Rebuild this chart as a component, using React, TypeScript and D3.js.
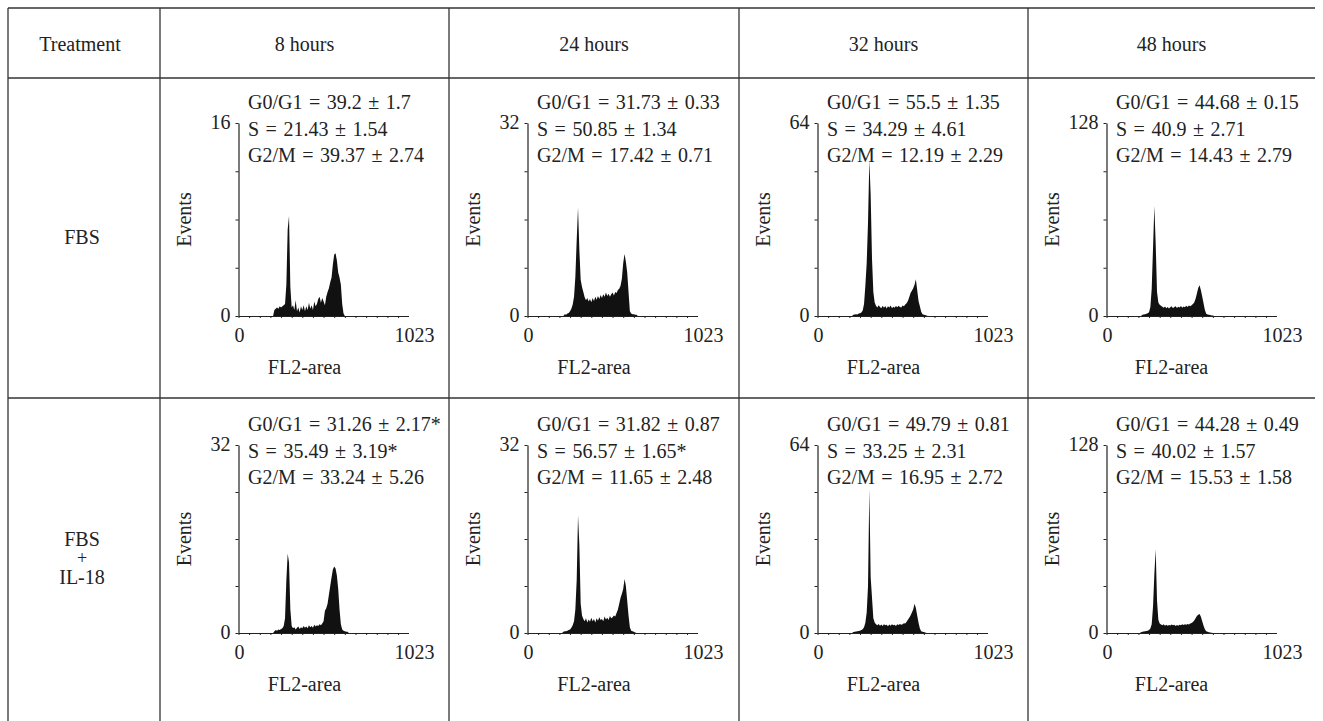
import React, { useRef, useEffect } from 'react';
import * as d3 from 'd3';

// table headings
const timepoints = ['8 hours', '24 hours', '32 hours', '48 hours'];
const treatments = [['FBS'], ['FBS', '+', 'IL-18']];
const phases = ['G0/G1', 'S', 'G2/M'];

// y-axis maxima (Events) per row / column
const yMaxFBS = [16, 32, 64, 128];
const yMaxIL18 = [32, 32, 64, 128];

// percentages shown above every histogram
const statsFBS = [
  ['39.2 ± 1.7', '21.43 ± 1.54', '39.37 ± 2.74'],
  ['31.73 ± 0.33', '50.85 ± 1.34', '17.42 ± 0.71'],
  ['55.5 ± 1.35', '34.29 ± 4.61', '12.19 ± 2.29'],
  ['44.68 ± 0.15', '40.9 ± 2.71', '14.43 ± 2.79'],
];
const statsIL18 = [
  ['31.26 ± 2.17*', '35.49 ± 3.19*', '33.24 ± 5.26'],
  ['31.82 ± 0.87', '56.57 ± 1.65*', '11.65 ± 2.48'],
  ['49.79 ± 0.81', '33.25 ± 2.31', '16.95 ± 2.72'],
  ['44.28 ± 0.49', '40.02 ± 1.57', '15.53 ± 1.58'],
];

// histogram counts, FL2-area channel 200, 208, ... 672 (8 channels per bin)
const binStart = 200;
const binWidth = 8;

const fbs8h = [
  0, 0, 0.5, 0.6, 0.7, 0.6, 0.8, 0.7, 0.8, 0.9,
  1.0, 2.6, 7.2, 8.3, 2.4, 0.7, 0.9, 0.5, 1.3, 0.4,
  0.7, 0.3, 0.8, 0.5, 0.9, 0.4, 0.8, 0.5, 1.1, 0.6,
  0.9, 0.5, 1.2, 0.8, 1.0, 1.4, 1.6, 1.1, 1.5, 1.2,
  0.9, 1.6, 2.0, 2.3, 2.8, 3.2, 4.3, 5.1, 5.2, 4.6,
  3.6, 3.2, 2.6, 1.0, 0.2, 0, 0, 0, 0, 0,
];
const fbs24h = [
  0, 0, 0, 0.3, 0.2, 0.4, 0.5, 0.8, 1.2, 1.9,
  3.2, 6.5, 12.5, 18.0, 11.0, 6.0, 4.8, 4.0, 3.1, 2.6,
  3.0, 2.4, 2.8, 2.3, 3.0, 2.5, 3.2, 2.7, 3.3, 2.8,
  3.5, 3.0, 3.6, 3.2, 3.9, 3.3, 3.7, 3.2, 3.6, 3.9,
  3.4, 4.0, 3.8, 4.3, 4.5, 5.0, 6.2, 8.8, 10.3, 9.0,
  7.2, 4.0, 0.8, 0.4, 0.3, 0.3, 0.2, 0.2, 0, 0,
];
const fbs32h = [
  0, 0, 0.4, 0.5, 0.6, 0.5, 0.8, 0.9, 1.2, 1.8,
  4.0, 10.0, 17.5, 31.0, 51.7, 40.0, 19.0, 8.0, 4.5, 3.4,
  2.8, 3.6, 3.0, 2.6, 3.4, 2.7, 3.3, 2.5, 3.2, 2.8,
  3.5, 2.6, 3.1, 2.7, 3.3, 2.9, 3.4, 3.0, 2.8, 3.5,
  3.2, 3.8, 4.2, 5.0, 6.2, 7.6, 8.4, 9.2, 10.4, 12.2,
  8.5, 5.0, 3.2, 1.4, 0.6, 0.4, 0.3, 0.2, 0, 0,
];
const fbs48h = [
  0, 0, 0.8, 1.0, 1.2, 1.5, 1.8, 2.5, 6.0, 18.0,
  45.0, 73.0, 48.0, 16.0, 9.0, 7.5, 6.8, 6.2, 5.4, 6.3,
  5.2, 6.0, 5.0, 5.8, 6.4, 5.1, 5.9, 6.5, 5.3, 6.1,
  5.6, 6.6, 5.4, 6.3, 5.8, 6.8, 6.0, 7.0, 6.4, 7.2,
  8.0, 9.0, 11.5, 15.0, 18.5, 20.4, 17.0, 13.0, 8.5, 4.0,
  1.5, 1.0, 0.8, 0.6, 0.4, 0.3, 0, 0, 0, 0,
];
const il8h = [
  0, 0, 0.3, 0.5, 0.4, 0.6, 0.5, 0.7, 0.8, 1.2,
  2.5, 9.0, 13.5, 12.0, 4.0, 1.2, 0.8, 1.0, 0.6, 0.9,
  1.1, 0.7, 1.0, 0.8, 1.2, 0.9, 1.1, 0.8, 1.3, 1.0,
  1.2, 0.9, 1.4, 1.1, 1.3, 1.2, 1.5, 1.3, 1.6, 2.0,
  3.8, 4.2, 5.0, 6.5, 8.0, 9.5, 10.8, 11.3, 11.0, 9.8,
  7.5, 4.0, 1.5, 0.6, 0.4, 0.3, 0.2, 0.2, 0, 0,
];
const il24h = [
  0, 0, 0.2, 0.3, 0.3, 0.4, 0.5, 0.6, 0.9, 1.3,
  2.0, 4.0, 9.0, 20.0, 15.0, 5.0, 3.0, 2.4, 2.0, 2.5,
  1.8, 2.3, 1.9, 2.6, 2.0, 2.4, 1.8, 2.5, 2.1, 2.7,
  2.2, 2.4, 2.0, 2.8, 2.3, 2.6, 2.2, 2.9, 2.5, 2.7,
  3.0, 2.8, 3.4, 4.0, 5.0, 6.0, 6.7, 7.5, 9.2, 8.0,
  5.5, 3.0, 1.0, 0.4, 0.3, 0.2, 0.1, 0, 0, 0,
];
const il32h = [
  0, 0, 0.3, 0.4, 0.5, 0.6, 0.7, 0.8, 1.0, 1.3,
  2.0, 3.5, 7.0, 16.0, 49.0, 19.0, 12.0, 5.0, 3.6, 3.0,
  2.6, 3.1, 2.5, 2.9, 2.4, 3.0, 2.6, 2.8, 2.3, 2.9,
  2.5, 3.0, 2.6, 2.8, 2.4, 3.0, 2.7, 3.1, 2.8, 3.0,
  3.3, 3.2, 3.8, 4.5, 5.2, 6.0, 7.0, 8.0, 10.0, 8.5,
  6.0, 3.5, 1.5, 0.6, 0.4, 0.3, 0.2, 0, 0, 0,
];
const il48h = [
  0, 0.5, 0.8, 1.0, 1.2, 1.4, 1.6, 2.0, 3.0, 6.0,
  18.0, 40.0, 57.0, 22.0, 9.0, 6.5, 5.8, 5.2, 5.9, 5.0,
  5.6, 4.9, 5.5, 5.1, 5.8, 5.2, 5.6, 4.8, 5.4, 5.0,
  5.7, 5.3, 5.9, 5.4, 6.0, 5.6, 6.2, 5.8, 6.4, 6.8,
  7.5, 8.5, 10.0, 11.5, 12.5, 13.0, 11.0, 8.0, 5.0, 2.5,
  1.2, 0.8, 0.5, 0.3, 0.2, 0, 0, 0, 0, 0,
];

const rows = [
  { label: treatments[0], yMax: yMaxFBS, stats: statsFBS, data: [fbs8h, fbs24h, fbs32h, fbs48h] },
  { label: treatments[1], yMax: yMaxIL18, stats: statsIL18, data: [il8h, il24h, il32h, il48h] },
];

const W = 1323;
const H = 721;
const FONT = '"Liberation Serif", "DejaVu Serif", serif';

const App = () => {
  const svgRef = useRef(null);

  useEffect(() => {
    const svg = d3.select(svgRef.current);
    svg.selectAll('*').remove();

    const colX = [8, 160, 449, 739, 1028];
    const right = 1315;
    const rowY = [8, 78, 398];
    const axesY = [{ top: 123, zero: 316 }, { top: 445, zero: 633 }];

    // table rules
    const grid = svg.append('g').attr('stroke', '#333').attr('stroke-width', 1.3);
    rowY.forEach((y) => {
      grid.append('line').attr('x1', 8).attr('x2', right).attr('y1', y).attr('y2', y);
    });
    colX.forEach((x) => {
      grid.append('line').attr('x1', x).attr('x2', x).attr('y1', 8).attr('y2', H);
    });

    const text = svg.append('g')
      .style('font-family', FONT)
      .style('font-size', '20px')
      .attr('fill', '#222');

    // header row
    text.append('text').attr('x', 80).attr('y', 51).attr('text-anchor', 'middle').text('Treatment');
    timepoints.forEach((t, i) => {
      text.append('text')
        .attr('x', (colX[i + 1] + (colX[i + 2] || right)) / 2)
        .attr('y', 51)
        .attr('text-anchor', 'middle')
        .text(t);
    });

    // row labels
    text.append('text').attr('x', 82).attr('y', 244).attr('text-anchor', 'middle').text(rows[0].label[0]);
    text.append('text').attr('x', 82).attr('y', 546).attr('text-anchor', 'middle').text(rows[1].label[0]);
    text.append('text').attr('x', 82).attr('y', 564).attr('text-anchor', 'middle')
      .style('font-size', '18px').text(rows[1].label[1]);
    text.append('text').attr('x', 82).attr('y', 584).attr('text-anchor', 'middle').text(rows[1].label[2]);

    rows.forEach((row, r) => {
      const { top, zero } = axesY[r];
      row.data.forEach((counts, c) => {
        const left = colX[c + 1];
        const cellRight = colX[c + 2] || right;
        const ax = left + 78.5;
        const max = row.yMax[c];

        const x = d3.scaleLinear().domain([0, 1023]).range([ax, ax + 170]);
        const y = d3.scaleLinear().domain([0, max]).range([zero, top]);

        const g = svg.append('g');

        const area = d3.area()
          .x((d, i) => x(binStart + i * binWidth))
          .y0(y(0))
          .y1((d) => y(Math.min(d, max)))
          .curve(d3.curveLinear);

        g.append('path')
          .datum(counts)
          .attr('d', area)
          .attr('fill', '#111');

        const yAxis = d3.axisLeft(y)
          .tickValues(d3.range(0, max + 0.001, max / 4))
          .tickSize(3)
          .tickSizeOuter(0)
          .tickFormat(() => '');
        const ya = g.append('g').attr('transform', `translate(${ax},0)`).call(yAxis);
        ya.select('.domain').attr('stroke', '#222').attr('stroke-width', 1.2);
        ya.selectAll('line').attr('stroke', '#222');

        const xAxis = d3.axisBottom(x)
          .tickValues(d3.range(0, 1024, 64))
          .tickSize(2)
          .tickSizeOuter(0)
          .tickFormat(() => '');
        const xa = g.append('g').attr('transform', `translate(0,${zero})`).call(xAxis);
        xa.select('.domain').attr('stroke', '#222').attr('stroke-width', 1.2);
        xa.selectAll('line').attr('stroke', '#222');

        // axis labels
        text.append('text').attr('x', ax - 8).attr('y', top + 6).attr('text-anchor', 'end').text(max);
        text.append('text').attr('x', ax - 8).attr('y', zero + 6).attr('text-anchor', 'end').text(0);
        text.append('text').attr('x', x(0) + 1).attr('y', zero + 26).attr('text-anchor', 'middle').text(0);
        text.append('text').attr('x', x(1023) + 6).attr('y', zero + 26).attr('text-anchor', 'middle').text(1023);
        text.append('text')
          .attr('transform', `translate(${ax - 48},${(top + zero) / 2}) rotate(-90)`)
          .attr('text-anchor', 'middle')
          .text('Events');
        text.append('text')
          .attr('x', (left + cellRight) / 2)
          .attr('y', zero + 58)
          .attr('text-anchor', 'middle')
          .text('FL2-area');

        // phase percentages
        phases.forEach((p, k) => {
          text.append('text')
            .attr('x', left + 88)
            .attr('y', top - 14 + k * 26.5)
            .style('word-spacing', '1.5px')
            .text(`${p} = ${row.stats[c][k]}`);
        });
      });
    });
  }, []);

  return (
    <svg
      ref={svgRef}
      width={W}
      height={H}
      style={{ position: 'absolute', left: 0, top: 0, background: '#fff' }}
    />
  );
};

export default App;
